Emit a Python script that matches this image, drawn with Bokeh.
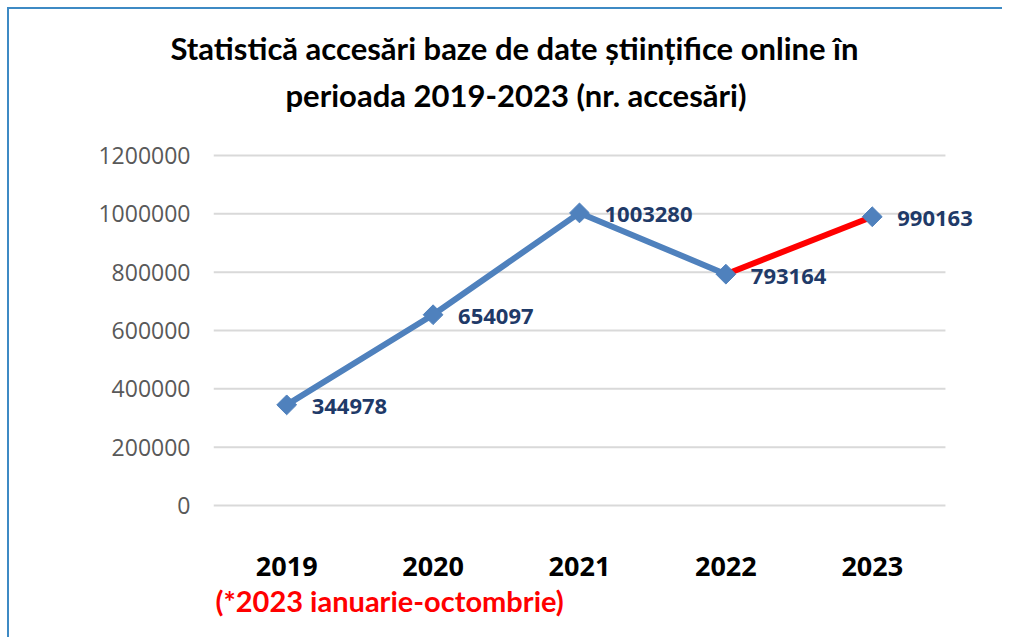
import math
from bokeh.plotting import figure
from bokeh.models import (ColumnDataSource, Title, FixedTicker, Range1d,
                          BasicTickFormatter, LabelSet)
from bokeh.core.properties import value
from bokeh.embed import file_html
from bokeh.resources import INLINE

# ---- data ----
years = ["2019", "2020", "2021", "2022", "2023"]
accesses = [344978, 654097, 1003280, 793164, 990163]
y_ticks = [0, 200000, 400000, 600000, 800000, 1000000, 1200000]
title_line1 = "Statistică accesări baze de date științifice online în"
title_line2 = "perioada 2019-2023 (nr. accesări)"
footnote = "(*2023 ianuarie-octombrie)"

BLUE = "#4F81BD"
NAVY = "#1F3A68"
TITLE_FONT = "Lato"

# category slots: each year occupies one unit on the x scale, centred at +0.5
xs = [i + 0.5 for i in range(len(years))]
n_slots = len(years)
x_extra = 0.376          # free room right of the last slot for its data label
y_pad = 7000             # tiny pad so the 0 / top grid lines are not clipped

p = figure(x_range=Range1d(0, n_slots + x_extra),
           y_range=Range1d(-y_pad, y_ticks[-1] + y_pad),
           width=995, height=630,
           output_backend="svg", toolbar_location=None,
           min_border_left=204, min_border_right=4,
           min_border_top=144, min_border_bottom=132)
p.styles = {"margin-left": "7px", "margin-top": "7px",
            "border-left": "2px solid #3E8AC4", "border-top": "2px solid #3E8AC4"}
p.outline_line_color = None
p.background_fill_color = "white"
p.border_fill_color = "white"
p.title = None
p.grid.grid_line_color = None

# horizontal grid lines spanning only the category slots
p.segment(x0=0, x1=n_slots, y0=y_ticks, y1=y_ticks,
          line_color="#D9D9D9", line_width=2, level="underlay")

p.yaxis.ticker = FixedTicker(ticks=y_ticks)
p.yaxis.formatter = BasicTickFormatter(use_scientific=False)
p.yaxis.axis_line_color = None
p.yaxis.major_tick_line_color = None
p.yaxis.minor_tick_line_color = None
p.yaxis.major_label_text_font = "Open Sans"
p.yaxis.major_label_text_font_size = "23px"
p.yaxis.major_label_text_color = "#595959"
p.yaxis.major_label_standoff = 17

p.xaxis.ticker = FixedTicker(ticks=xs)
p.xaxis.major_label_overrides = dict(zip(xs, years))
p.xaxis.axis_line_color = None
p.xaxis.major_tick_line_color = None
p.xaxis.minor_tick_line_color = None
p.xaxis.major_label_text_font = "Open Sans"
p.xaxis.major_label_text_font_style = "bold"
p.xaxis.major_label_text_font_size = "27px"
p.xaxis.major_label_text_color = "#000000"
p.xaxis.major_label_standoff = 43

src = ColumnDataSource(dict(x=xs, y=accesses, t=[str(v) for v in accesses]))
p.line(x=xs[:4], y=accesses[:4], line_color=BLUE, line_width=6)
p.line(x=xs[3:], y=accesses[3:], line_color="#FF0000", line_width=6)
p.scatter(x="x", y="y", source=src, marker="square", angle=math.pi / 4,
          size=14, fill_color=BLUE, line_color=BLUE)
p.add_layout(LabelSet(x="x", y="y", text="t", source=src, x_offset=25, y_offset=-2,
                      text_baseline="middle", text_align="left",
                      text_font=value("Open Sans"), text_font_style="bold",
                      text_font_size="22px", text_color=NAVY))

# titles: closest-to-frame first
p.add_layout(Title(text=title_line2, align="left", offset=72, standoff=80,
                   text_font=TITLE_FONT, text_font_style="bold",
                   text_font_size="31px", text_color="#000000"), "above")
p.add_layout(Title(text=title_line1, align="left", offset=-43, standoff=-66,
                   text_font=TITLE_FONT, text_font_style="bold",
                   text_font_size="31px", text_color="#000000"), "above")

p.add_layout(Title(text=footnote, align="left", offset=2, standoff=5,
                   text_font=TITLE_FONT, text_font_style="bold",
                   text_font_size="29px", text_color="#FF0000"), "below")

open("out.html", "w").write(file_html(p, INLINE))
